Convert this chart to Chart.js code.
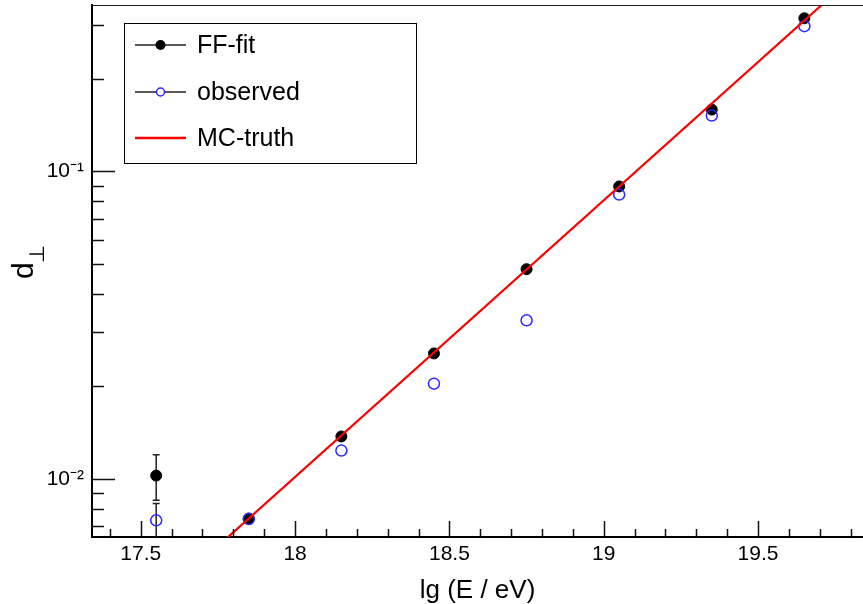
<!DOCTYPE html>
<html>
<head>
<meta charset="utf-8">
<script src="https://cdn.jsdelivr.net/npm/chart.js@4.4.0/dist/chart.umd.min.js"></script>
<style>
  html, body { margin: 0; padding: 0; background: #fff; }
</style>
</head>
<body>
<canvas id="chart" width="863" height="604"></canvas>
<script>
// lg(E/eV) bin centres
const energies = [17.55, 17.85, 18.15, 18.45, 18.75, 19.05, 19.35, 19.65];
// FF-fit values + visible error bars (null = hidden behind marker)
const ffFit = [0.01025, 0.00743, 0.01374, 0.02559, 0.0481, 0.0894, 0.159, 0.315];
const ffErrLow = [0.00852, null, null, null, null, null, null, null];
const ffErrHigh = [0.01197, null, null, null, null, null, null, null];
// observed
const observed = [0.00733, 0.0074, 0.01236, 0.0204, 0.0328, 0.0841, 0.152, 0.297];
const obsErrLow = [0.0060, null, null, null, null, null, null, null];
const obsErrHigh = [0.00831, null, null, null, null, null, null, null];
// MC truth line end points
const mcEnergy = [17.5, 19.85];
const mcTruth = [0.0036, 0.469];

const xTickValues = [17.5, 18, 18.5, 19, 19.5];
const xTickLabels = ['17.5', '18', '18.5', '19', '19.5'];
const yTickValues = [0.01, 0.1];
const yTickLabels = ['10\u207B\u00B2', '10\u207B\u00B9'];

const FONT = '"Liberation Sans", Arial, Helvetica, sans-serif';
Chart.defaults.font.family = FONT;
Chart.defaults.color = '#000';

const toXY = (xs, ys) => xs.map((x, i) => ({ x: x, y: ys[i] }));

// no extra room for half labels, the frame goes right to the edges
const noPad = s => { s.paddingTop = 0; s.paddingBottom = 0; s.paddingLeft = 0; s.paddingRight = 0; };

// root-style ticks pointing into the frame, top frame line, y title with subscript
const frameTicks = {
  id: 'frameTicks',
  afterDraw(chart) {
    const { ctx, chartArea: a, scales: { x, y } } = chart;
    ctx.save();
    ctx.strokeStyle = '#222';
    ctx.lineWidth = 1.2;
    ctx.beginPath();
    ctx.moveTo(a.left, a.top + 0.5);
    ctx.lineTo(a.right, a.top + 0.5);
    ctx.stroke();

    ctx.lineWidth = 1.5;
    ctx.strokeStyle = '#111';
    ctx.beginPath();
    for (let v = 17.4; v < x.max; v += 0.1) {
      const px = Math.round(x.getPixelForValue(v)) + 0.5;
      const major = Math.abs(v * 2 - Math.round(v * 2)) < 1e-6;
      ctx.moveTo(px, a.bottom);
      ctx.lineTo(px, a.bottom - (major ? 16 : 8));
    }
    for (let dec = 0.001; dec < 1; dec *= 10) {
      for (let m = 1; m <= 9; m++) {
        const v = dec * m;
        if (v < y.min || v > y.max) continue;
        const py = Math.round(y.getPixelForValue(v)) + 0.5;
        ctx.moveTo(a.left, py);
        ctx.lineTo(a.left + (m === 1 ? 23 : 12), py);
      }
    }
    ctx.stroke();

    // d with perp subscript, rotated
    ctx.translate(33, 279);
    ctx.rotate(-Math.PI / 2);
    ctx.fillStyle = '#000';
    ctx.textBaseline = 'alphabetic';
    ctx.font = '30px ' + FONT;
    ctx.fillText('d', 0, 0);
    const w = ctx.measureText('d').width;
    ctx.font = '21px "DejaVu Sans", ' + FONT;
    ctx.fillText('\u22A5', w - 1, 11);
    ctx.restore();
  }
};

// vertical error bars with small caps, under the markers
const errorBars = {
  id: 'errorBars',
  beforeDatasetsDraw(chart) {
    const { ctx, chartArea: a, scales: { x, y } } = chart;
    ctx.save();
    ctx.beginPath();
    ctx.rect(a.left, a.top, a.right - a.left, a.bottom - a.top);
    ctx.clip();
    ctx.strokeStyle = '#222';
    ctx.lineWidth = 1.5;
    const sets = [[ffErrLow, ffErrHigh], [obsErrLow, obsErrHigh]];
    sets.forEach(([lo, hi]) => {
      energies.forEach((e, i) => {
        if (lo[i] == null) return;
        const px = x.getPixelForValue(e);
        const y0 = y.getPixelForValue(lo[i]);
        const y1 = y.getPixelForValue(hi[i]);
        ctx.beginPath();
        ctx.moveTo(px, y0); ctx.lineTo(px, y1);
        ctx.moveTo(px - 3.5, y0); ctx.lineTo(px + 3.5, y0);
        ctx.moveTo(px - 3.5, y1); ctx.lineTo(px + 3.5, y1);
        ctx.stroke();
      });
    });
    ctx.restore();
  }
};

// legend box like the original
const boxLegend = {
  id: 'boxLegend',
  afterDraw(chart) {
    const { ctx } = chart;
    const bx = 124, by = 23, bw = 292, bh = 140;
    ctx.save();
    ctx.fillStyle = '#fff';
    ctx.fillRect(bx, by, bw, bh);
    ctx.strokeStyle = '#000';
    ctx.lineWidth = 1;
    ctx.strokeRect(bx + 0.5, by + 0.5, bw, bh);
    const rows = [45, 92, 138];
    const ds = chart.data.datasets;
    ds.forEach((d, i) => {
      const yy = rows[i];
      ctx.beginPath();
      ctx.strokeStyle = d.showLine ? d.borderColor : '#222';
      ctx.lineWidth = d.showLine ? 2.5 : 1.3;
      ctx.moveTo(135, yy); ctx.lineTo(186, yy);
      ctx.stroke();
      if (!d.showLine) {
        ctx.beginPath();
        ctx.arc(160.5, yy, i === 0 ? 5 : 4, 0, Math.PI * 2);
        if (i === 0) { ctx.fillStyle = '#000'; ctx.fill(); }
        else { ctx.fillStyle = '#fff'; ctx.fill(); ctx.strokeStyle = d.borderColor; ctx.lineWidth = 1.5; ctx.stroke(); }
      }
      ctx.fillStyle = '#000';
      ctx.font = '25px ' + FONT;
      ctx.textBaseline = 'middle';
      ctx.fillText(d.label, 197, yy + 1);
    });
    ctx.restore();
  }
};

new Chart(document.getElementById('chart'), {
  type: 'scatter',
  data: {
    datasets: [
      {
        label: 'FF-fit',
        data: toXY(energies, ffFit),
        showLine: false,
        pointStyle: 'circle',
        pointRadius: 5.5,
        backgroundColor: '#000',
        borderColor: '#000',
        borderWidth: 1,
        order: 3
      },
      {
        label: 'observed',
        data: toXY(energies, observed),
        showLine: false,
        pointStyle: 'circle',
        pointRadius: 5.5,
        backgroundColor: 'rgba(0,0,0,0)',
        borderColor: 'rgb(40,40,255)',
        borderWidth: 1.5,
        order: 2
      },
      {
        label: 'MC-truth',
        data: toXY(mcEnergy, mcTruth),
        showLine: true,
        pointRadius: 0,
        borderColor: '#ff0000',
        borderWidth: 2.2,
        order: 1
      }
    ]
  },
  options: {
    responsive: false,
    animation: false,
    layout: { autoPadding: false, padding: { top: 5, right: 0, left: 0, bottom: 0 } },
    plugins: { legend: { display: false }, tooltip: { enabled: false } },
    scales: {
      x: {
        type: 'linear',
        min: 17.342,
        max: 19.84,
        grid: { display: false, drawTicks: false },
        border: { display: true, color: '#000', width: 2 },
        afterBuildTicks: s => { s.ticks = xTickValues.map(v => ({ value: v })); },
        afterFit: s => { s.height = 67; noPad(s); },
        ticks: {
          padding: 5,
          maxRotation: 0,
          autoSkip: false,
          font: { size: 21 },
          callback: v => xTickLabels[xTickValues.indexOf(v)]
        },
        title: {
          display: true,
          text: 'lg (E / eV)',
          font: { size: 26, lineHeight: 1 },
          padding: { top: 0, bottom: 0 }
        }
      },
      y: {
        type: 'logarithmic',
        min: 0.00647,
        max: 0.348,
        grid: { display: false, drawTicks: false },
        border: { display: true, color: '#000', width: 2 },
        afterBuildTicks: s => { s.ticks = yTickValues.map(v => ({ value: v })); },
        afterFit: s => { s.width = 92; noPad(s); },
        ticks: {
          padding: 8,
          autoSkip: false,
          font: { size: 21 },
          callback: v => yTickLabels[yTickValues.indexOf(v)]
        },
        title: { display: false }
      }
    }
  },
  plugins: [errorBars, frameTicks, boxLegend]
});
</script>
</body>
</html>
